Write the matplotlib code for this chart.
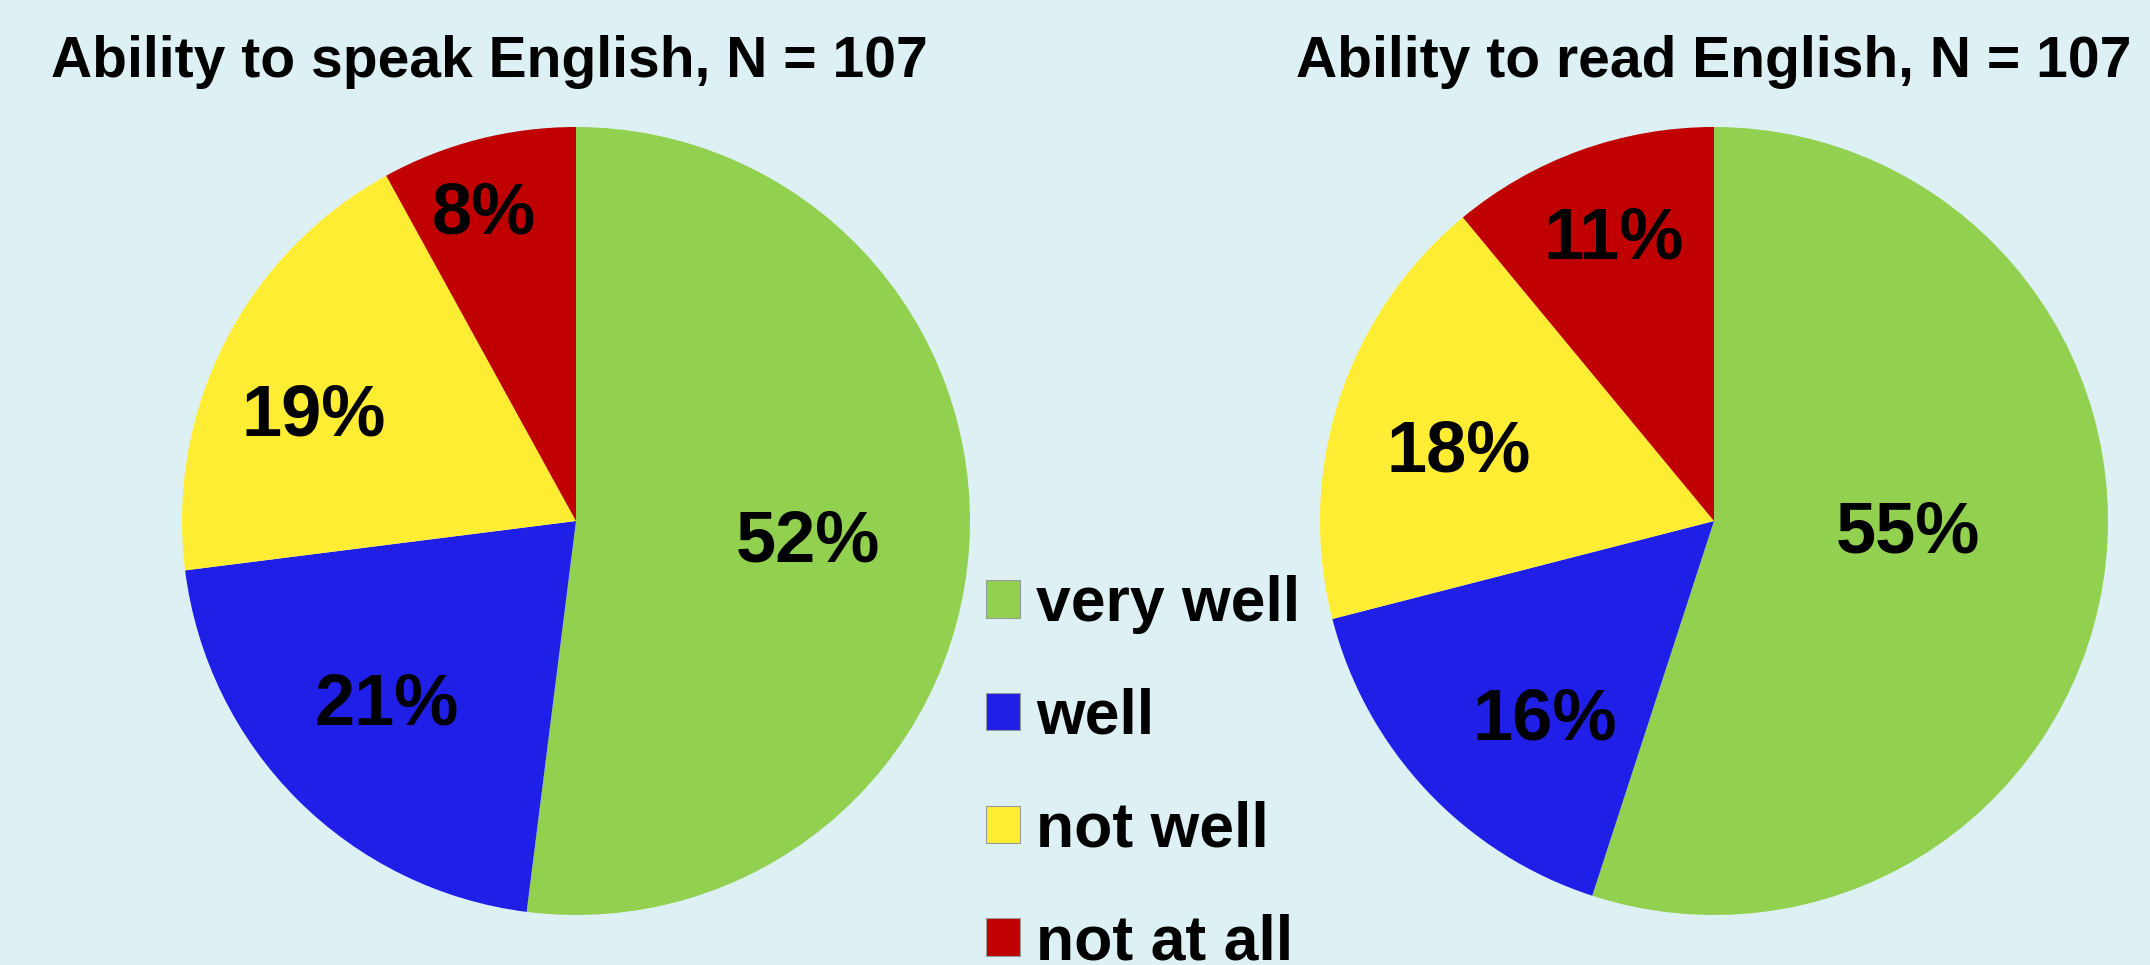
import numpy as np
import matplotlib.pyplot as plt

categories = ["very well", "well", "not well", "not at all"]
speak_pct = [52, 21, 19, 8]
read_pct = [55, 16, 18, 11]
titles = ["Ability to speak English, N = 107", "Ability to read English, N = 107"]

colors = ["#92D050", "#1F1FE8", "#FFED33", "#C00000"]
bg = "#DDF1F4"
W, H = 2150, 965

# label placement: distance from centre (fraction of radius), angle nudge in degrees
speak_dist = [0.592, 0.670, 0.716, 0.811]
speak_nudge = [-1.8, -0.8, 5.3, 2.3]
read_dist = [0.494, 0.665, 0.672, 0.759]
read_nudge = [5.4, 6.5, 3.0, -0.3]

plt.rcParams["font.family"] = ["Liberation Sans", "DejaVu Sans"]
plt.rcParams["font.weight"] = "bold"

fig = plt.figure(figsize=(W / 100, H / 100), dpi=100)
fig.patch.set_facecolor(bg)

r = 394
centers = [(576, 521), (1714, 521)]
title_x = [489, 1714]
wedges_all = []
for (cx, cy), vals, dists, nudges, title, tx in zip(
        centers, [speak_pct, read_pct], [speak_dist, read_dist],
        [speak_nudge, read_nudge], titles, title_x):
    ax = fig.add_axes([(cx - r) / W, (H - cy - r) / H, 2 * r / W, 2 * r / H])
    wedges, _ = ax.pie(vals, colors=colors, startangle=90, counterclock=False,
                       wedgeprops=dict(linewidth=0, antialiased=True))
    ax.set_xlim(-1, 1)
    ax.set_ylim(-1, 1)
    ax.set_aspect("equal")
    ax.axis("off")
    for w, v, d, n in zip(wedges, vals, dists, nudges):
        ang = np.deg2rad((w.theta1 + w.theta2) / 2 + n)
        ax.text(d * np.cos(ang), d * np.sin(ang), f"{v}%", ha="center",
                va="center", fontsize=52, fontweight="bold", color="black")
    wedges_all.append(wedges)
    fig.text(tx / W, (H - 77) / H, title,
             ha="center", va="baseline", fontsize=41, fontweight="bold")

fig.legend(wedges_all[0], categories, loc="upper left",
           bbox_to_anchor=(986 / W, 390 / H), frameon=False, fontsize=45,
           handlelength=0.55, handleheight=0.55, handletextpad=0.25,
           labelspacing=0.86, borderpad=0, borderaxespad=0)
for p in fig.legends[0].get_patches():
    p.set_edgecolor("#999999")
    p.set_linewidth(0.8)

fig.savefig("out.png", dpi=100, facecolor=bg)
